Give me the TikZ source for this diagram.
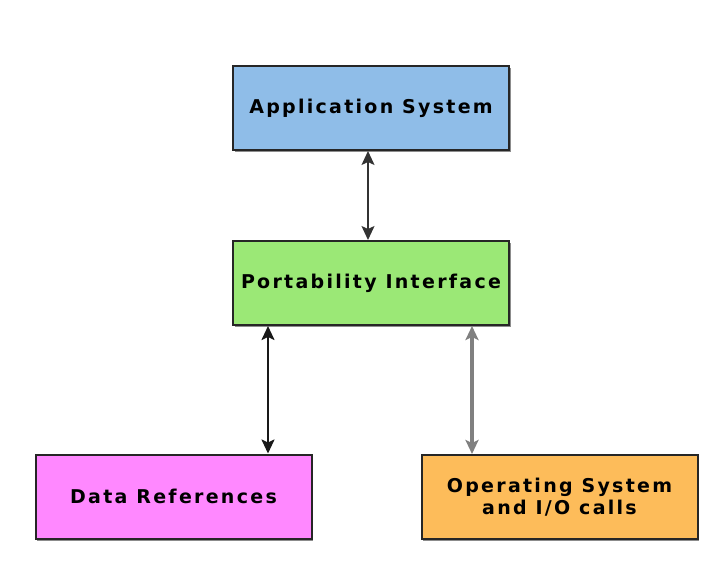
\documentclass[tikz,border=0pt]{standalone}
\usepackage{fontspec}
\newfontfamily\boxfont[LetterSpace=12]{DejaVu Sans Bold}
\usetikzlibrary{arrows.meta,shadows}
\definecolor{appblue}{RGB}{143,189,232}
\definecolor{portgreen}{RGB}{155,232,118}
\definecolor{datapink}{RGB}{255,136,255}
\definecolor{osorange}{RGB}{253,188,90}
\tikzset{
  sysbox/.style={rectangle, draw=black!85, line width=2pt,
    minimum width=276pt, minimum height=84pt, inner sep=0pt,
    drop shadow={shadow xshift=1.5pt, shadow yshift=-2pt, fill=black!45, opacity=1},
    align=center, font=\boxfont\fontsize{19}{22}\selectfont},
  link/.style={{Stealth[length=14pt,width=13pt,inset=3pt]}-{Stealth[length=14pt,width=13pt,inset=3pt]}}
}
\begin{document}
\begin{tikzpicture}[x=1pt,y=-1pt]
  \useasboundingbox (0,0) rectangle (722,561);
  \node (app) at (371,108) [sysbox, fill=appblue] {Application System};
  \node (port) at (371,283) [sysbox, fill=portgreen] {Portability Interface};
  \node (data) at (173.5,496.5) [sysbox, fill=datapink] {Data References};
  \node (os) at (559.5,497) [sysbox, fill=osorange]
    {Operating System\\and I/O calls};
  \draw[link, black!80, line width=1.5pt] ([xshift=-3pt]app.south)
    -- ([xshift=-3pt]port.north);
  \draw[link, black!90, line width=2.2pt] ([xshift=-103pt]port.south)
    -- ([xshift=-103pt]port.south |- data.north);
  \draw[link, black!50, line width=3.5pt] ([xshift=101pt]port.south)
    -- ([xshift=101pt]port.south |- os.north);
\end{tikzpicture}
\end{document}
